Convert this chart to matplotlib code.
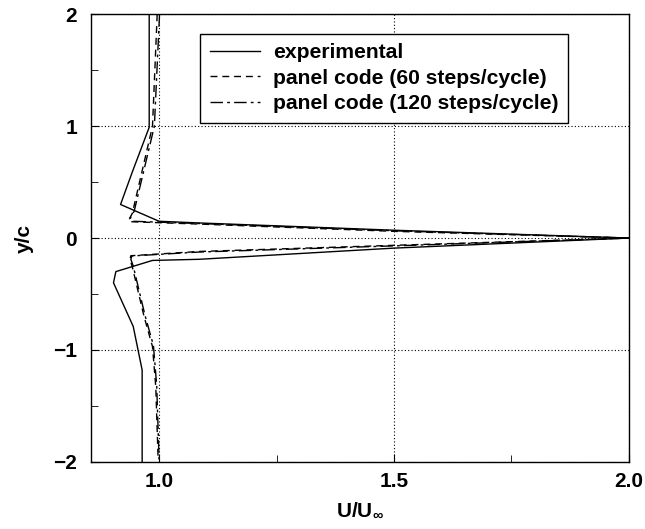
import matplotlib
matplotlib.use("Agg")
import matplotlib.pyplot as plt

plt.rcParams['font.family'] = ['Liberation Sans', 'DejaVu Sans']
plt.rcParams['font.weight'] = 'bold'
plt.rcParams['mathtext.fontset'] = 'custom'
plt.rcParams['mathtext.rm'] = 'Liberation Sans:bold'
plt.rcParams['mathtext.it'] = 'Liberation Sans:bold'

# wake velocity profiles: U/U_inf against y/c
exp_u = [0.979, 0.979, 0.943, 0.918, 1.000, 1.085, 1.500, 2.000,
         1.500, 1.085, 0.986, 0.908, 0.903, 0.945, 0.964, 0.964]
exp_y = [2.00, 0.99, 0.59, 0.30, 0.15, 0.135, 0.07, 0.0,
         -0.09, -0.19, -0.20, -0.30, -0.40, -0.79, -1.18, -2.00]

p60_u = [0.996, 0.986, 0.943, 0.935, 0.940, 1.085, 1.500, 2.000,
         1.500, 1.085, 0.940, 0.938, 0.943, 0.968, 0.986, 0.993, 0.998]
p60_y = [2.00, 1.00, 0.22, 0.16, 0.146, 0.125, 0.06, 0.0,
         -0.065, -0.12, -0.158, -0.19, -0.257, -0.70, -0.97, -1.33, -1.98]

p120_u = [1.001, 0.990, 0.947, 0.938, 0.944, 1.085, 1.500, 2.000,
          1.500, 1.085, 0.942, 0.940, 0.945, 0.970, 0.988, 0.995, 1.000]
p120_y = [2.00, 1.00, 0.24, 0.17, 0.150, 0.130, 0.065, 0.0,
          -0.07, -0.125, -0.16, -0.19, -0.25, -0.69, -0.96, -1.32, -1.98]

fig = plt.figure(figsize=(6.45, 5.29), dpi=100)
ax = fig.add_axes([0.141, 0.127, 0.834, 0.846])

ax.plot(exp_u, exp_y, color='black', lw=1.0, ls='-', label='experimental')
ax.plot(p60_u, p60_y, color='black', lw=1.0, ls=(0, (5, 3.5)),
        label='panel code (60 steps/cycle)')
ax.plot(p120_u, p120_y, color='black', lw=1.0, ls=(0, (9, 3, 2, 3)),
        label='panel code (120 steps/cycle)')

ax.set_xlim(0.855, 2.0)
ax.set_ylim(-2, 2)
ax.set_xticks([1.0, 1.5, 2.0])
ax.set_xticklabels(['1.0', '1.5', '2.0'])
ax.set_xticks([1.25, 1.75], minor=True)
ax.set_yticks([-2, -1, 0, 1, 2])
ax.set_yticklabels(['\u22122', '\u22121', '0', '1', '2'])
ax.set_yticks([-1.5, -0.5, 0.5, 1.5], minor=True)
ax.tick_params(which='both', direction='in', labelsize=15)
ax.tick_params(axis='x', pad=7)
ax.tick_params(axis='y', pad=10)
ax.tick_params(which='major', length=6)
ax.tick_params(which='minor', length=5)
ax.grid(True, which='major', color='black', ls=(0, (1, 2)), lw=0.8)
for s in ax.spines.values():
    s.set_linewidth(1.0)

ax.set_xlabel(r'U/U$_{\infty}$', fontsize=15, fontweight='bold', labelpad=7)
ax.set_ylabel('y/c', fontsize=15, fontweight='bold', labelpad=14)

leg = ax.legend(loc='upper left', bbox_to_anchor=(200 / 645, 1 - 34 / 529),
                bbox_transform=fig.transFigure, borderaxespad=0,
                fontsize=15.2, frameon=True, fancybox=False,
                edgecolor='black', handlelength=2.4, borderpad=0.45,
                labelspacing=0.3, handletextpad=0.6)
leg.get_frame().set_linewidth(1.0)
leg.get_frame().set_alpha(1.0)

fig.savefig('out.png', dpi=100)
